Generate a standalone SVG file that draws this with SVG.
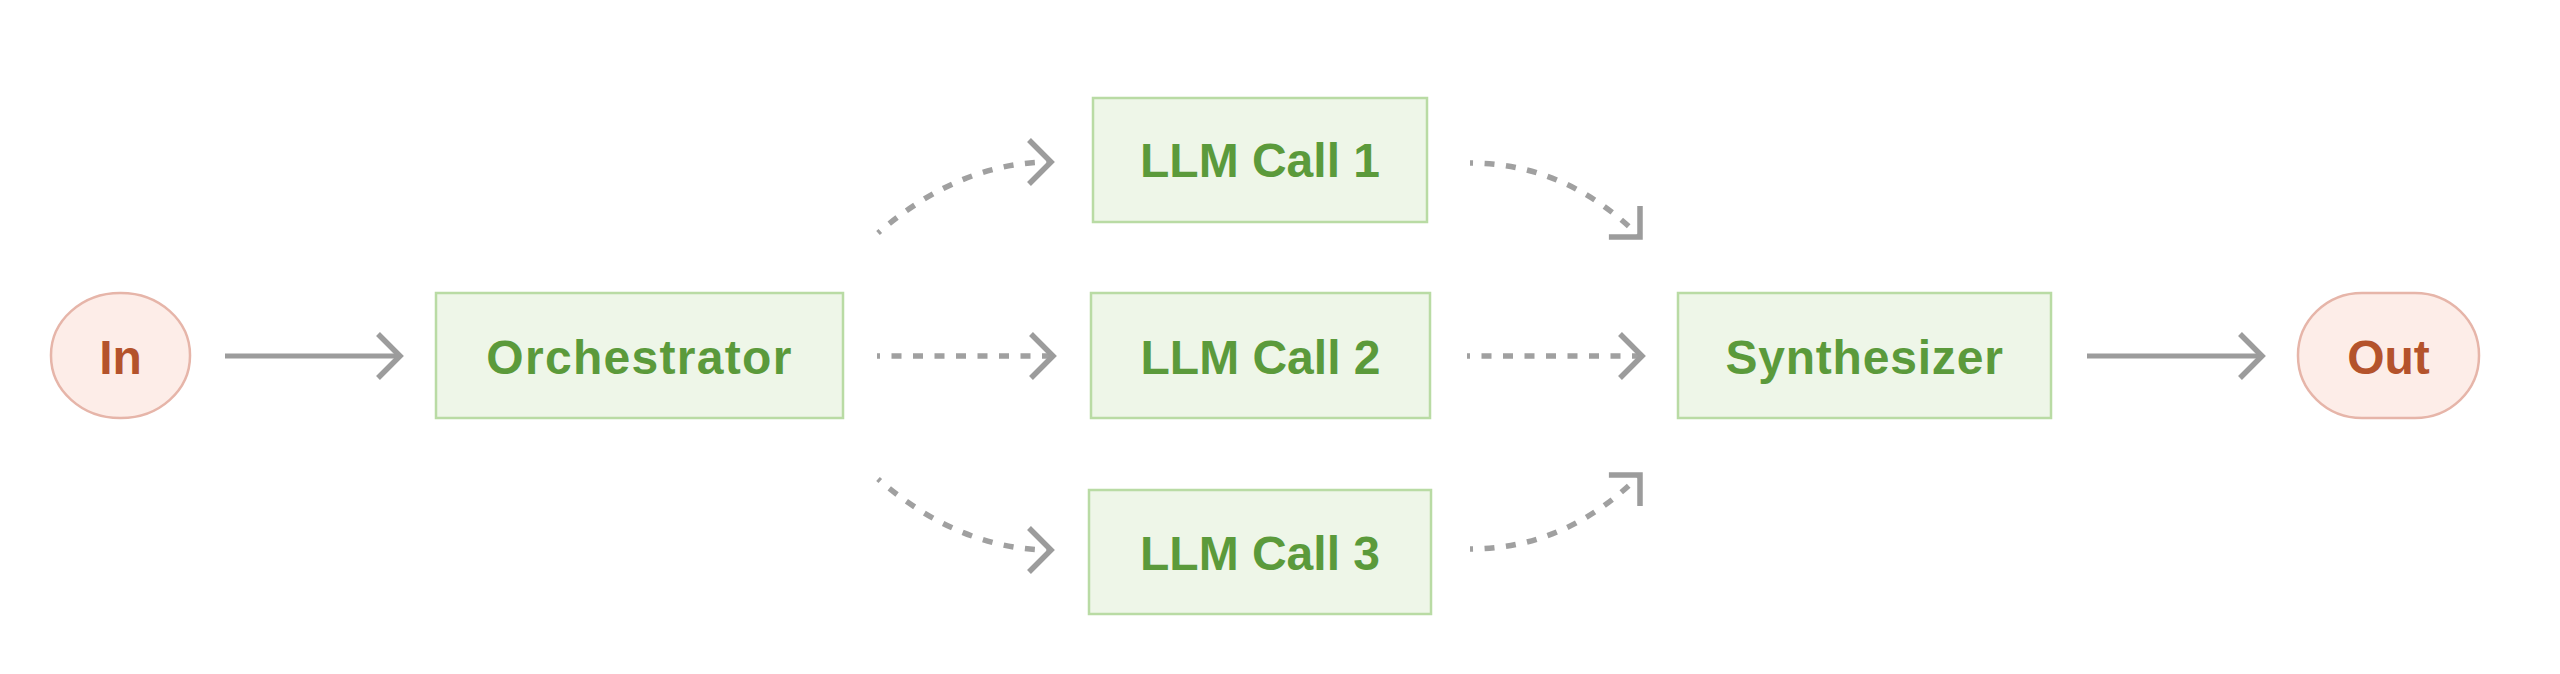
<svg xmlns="http://www.w3.org/2000/svg" width="2560" height="674" viewBox="0 0 2560 674">
<style>
.box{fill:#eef6e8;stroke:#b9dba4;stroke-width:2.5}
.pill{fill:#fdede8;stroke:#e6b5a9;stroke-width:2.5}
.lbl{font-family:"Liberation Sans",Arial,sans-serif;font-weight:bold;font-size:48px;text-anchor:middle;fill:#5b9a3b}
.io{fill:#b4532c}
.solid{fill:none;stroke:#9c9c9c;stroke-width:5}
.dash{fill:none;stroke:#a0a0a0;stroke-width:5.5;stroke-dasharray:10 11.5}
</style>
<defs>
<marker id="chev" markerUnits="userSpaceOnUse" markerWidth="60" markerHeight="60" refX="0" refY="0" orient="auto" overflow="visible">
<path d="M -22 -22 L 0 0 L -22 22" fill="none" stroke="#9c9c9c" stroke-width="5.5" stroke-dasharray="none"/>
</marker>
</defs>
<g id="connectors">
<path class="solid" d="M 225 356 L 400 356" marker-end="url(#chev)"/>
<path class="dash" d="M 877 356 L 1053 356" stroke-dashoffset="7" marker-end="url(#chev)"/>
<path class="dash" d="M 878 233 Q 960 162 1051 162" stroke-dashoffset="7" marker-end="url(#chev)"/>
<path class="dash" d="M 878 479 Q 960 550 1051 550" stroke-dashoffset="7" marker-end="url(#chev)"/>
<path class="dash" d="M 1467 356 L 1642 356" stroke-dashoffset="7" marker-end="url(#chev)"/>
<path class="dash" d="M 1470 163 Q 1566 163 1640 237" stroke-dashoffset="7" marker-end="url(#chev)"/>
<path class="dash" d="M 1470 549 Q 1566 549 1640 475" stroke-dashoffset="7" marker-end="url(#chev)"/>
<path class="solid" d="M 2087 356 L 2262 356" marker-end="url(#chev)"/>
</g>
<g id="in">
<rect class="pill" x="51" y="293" width="139" height="125" rx="69" ry="62"/>
<text class="lbl io" x="120.5" y="374">In</text>
</g>
<g id="orchestrator">
<rect class="box" x="436" y="293" width="407" height="125"/>
<text class="lbl" x="639.5" y="374" letter-spacing="1.3">Orchestrator</text>
</g>
<g id="llm1">
<rect class="box" x="1093" y="98" width="334" height="124"/>
<text class="lbl" x="1260" y="177">LLM Call 1</text>
</g>
<g id="llm2">
<rect class="box" x="1091" y="293" width="339" height="125"/>
<text class="lbl" x="1260.5" y="374">LLM Call 2</text>
</g>
<g id="llm3">
<rect class="box" x="1089" y="490" width="342" height="124"/>
<text class="lbl" x="1260" y="570">LLM Call 3</text>
</g>
<g id="synthesizer">
<rect class="box" x="1678" y="293" width="373" height="125"/>
<text class="lbl" x="1864.5" y="374" letter-spacing="0.8">Synthesizer</text>
</g>
<g id="out">
<rect class="pill" x="2298" y="293" width="181" height="125" rx="64" ry="62"/>
<text class="lbl io" x="2388.5" y="374">Out</text>
</g>
</svg>
